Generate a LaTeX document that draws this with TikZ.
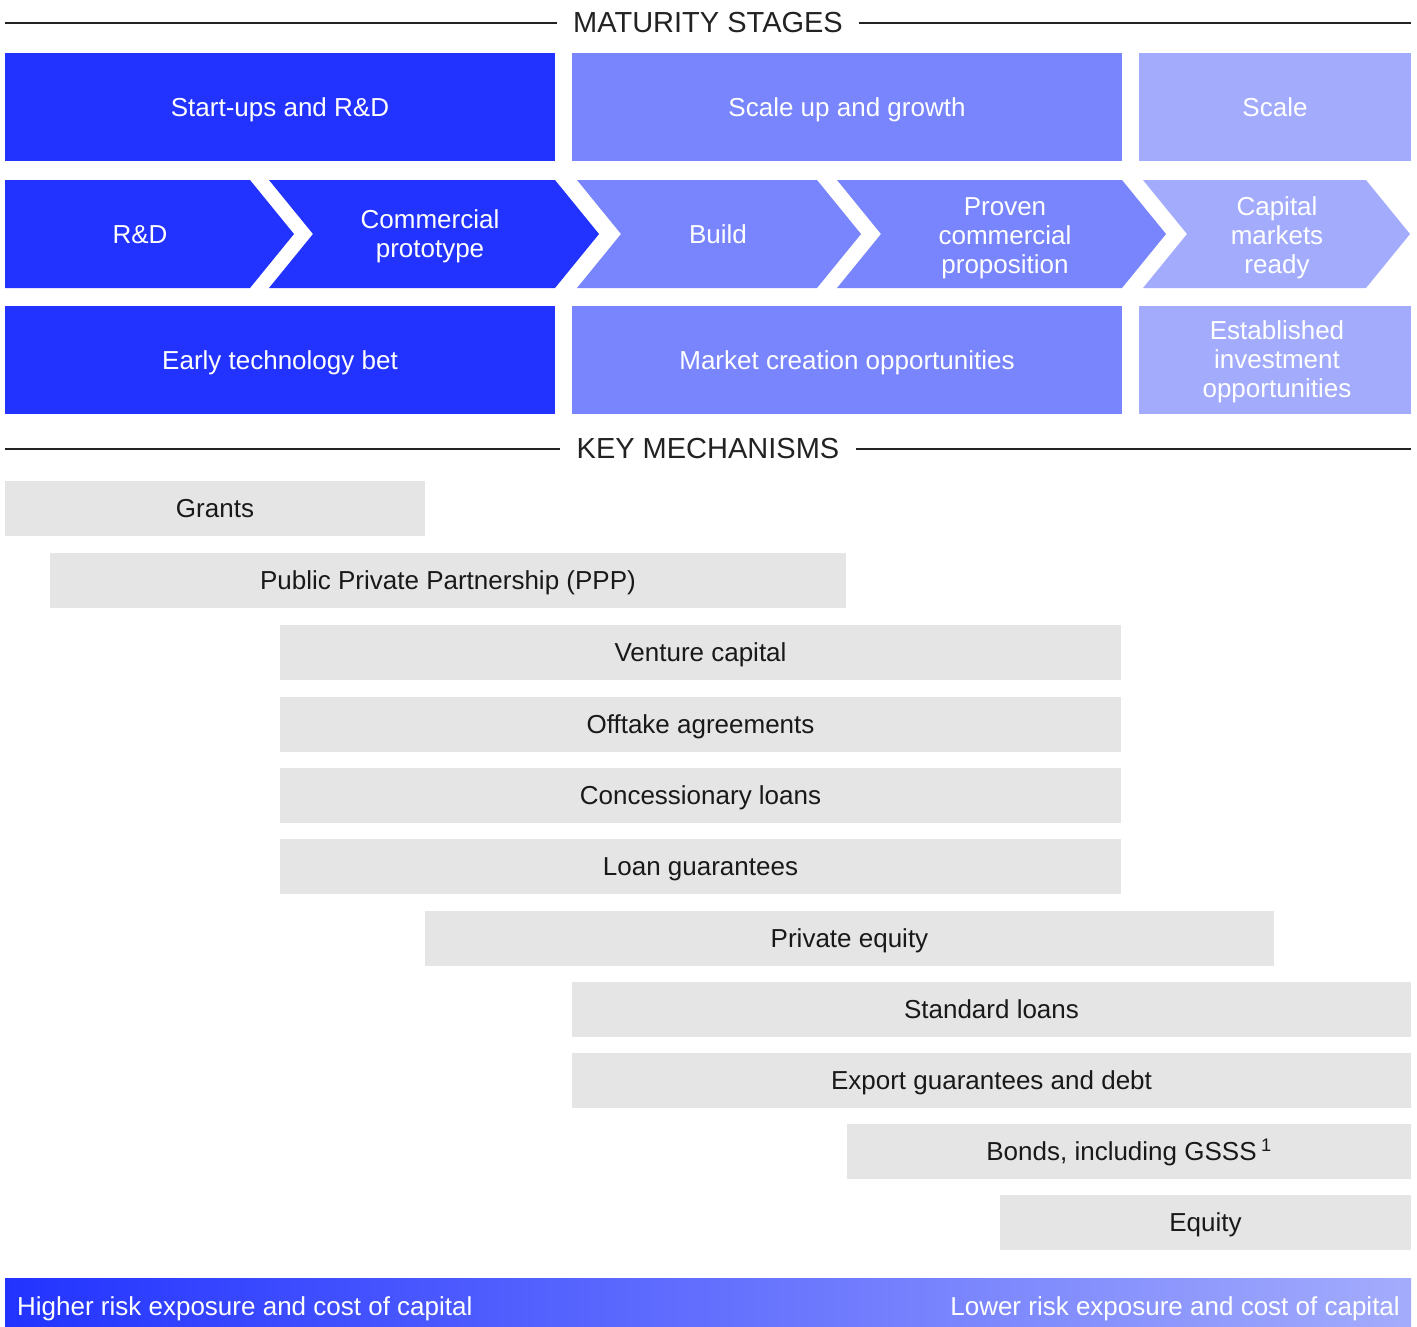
\documentclass[tikz,border=0pt]{standalone}
\usepackage{fontspec}
\setmainfont{Liberation Sans}
\usetikzlibrary{positioning}
\definecolor{darkStage}{HTML}{2233FF}
\definecolor{midStage}{HTML}{7885FC}
\definecolor{lightStage}{HTML}{A3ACFC}
\definecolor{barGrey}{HTML}{E5E5E5}
\definecolor{ruleGrey}{HTML}{222222}
\newcommand{\bodyFont}{\fontsize{26}{29}\selectfont}
\newcommand{\headFont}{\fontsize{29}{32}\selectfont}

\begin{document}
\begin{tikzpicture}[x=1pt,y=-1pt]
 \newcommand{\stageArrow}[3]{\fill[#1] (#2,180) -- (#3,180) -- ++(44,54) -- (#3,288) -- (#2,288) -- ++(44,-54) -- cycle;}
	\tikzset{capCentre/.style = {text height=18.6pt,text depth=0pt}}
	\tikzset{stage/.style = {capCentre,minimum width=550pt,minimum height=108pt,inner sep=0pt,text=white,font=\bodyFont,align=center}}
	\tikzset{stageText/.style = {capCentre,text=white,font=\bodyFont,align=center,inner sep=0pt}}
	\tikzset{multiText/.style = {text=white,font=\bodyFont,align=center,inner sep=0pt}}
	\tikzset{heading/.style = {font=\headFont,text=ruleGrey,inner ysep=0pt,inner xsep=16pt}}
	\tikzset{mech/.style = {capCentre,fill=barGrey,minimum height=55pt,inner sep=0pt,font=\bodyFont,text=black!90}}
	\tikzstyle{rule} = [draw=ruleGrey,line width=1.2pt]
	\useasboundingbox (0,0) rectangle (1417,1326);
	%maturity heading
	\node[heading] (maturity) at (708,23) {MATURITY STAGES};
	\coordinate (matL) at (5,23);
	\coordinate (matR) at (1411,23);
	\draw[rule] (matL) -- (maturity.west);
	\draw[rule] (maturity.east) -- (matR);
	%row 1
	\node[stage,fill=darkStage] (startups) at (280,107) {Start-ups and R\&D};
	\node[stage,fill=midStage] (scaleup) at (847,107) {Scale up and growth};
	\node[stage,fill=lightStage,minimum width=272pt] (scale) at (1275,107) {Scale};
	%row 2
	\fill[darkStage] (5,180) -- (250,180) -- ++(44,54) -- (250,288) -- (5,288) -- cycle;
	\stageArrow{darkStage}{269}{555}
	\stageArrow{midStage}{577}{817}
	\stageArrow{midStage}{837}{1122}
	\stageArrow{lightStage}{1143}{1366}
	\node[stageText] (rd) at (140,234) {R\&D};
	\node[multiText] (proto) at (430,236) {Commercial\\prototype};
	\node[stageText] (build) at (718,234) {Build};
	\node[multiText] (proven) at (1005,238) {Proven\\commercial\\proposition};
	\node[multiText] (ready) at (1277,238) {Capital\\markets\\ready};
	%row 3
	\node[stage,fill=darkStage] (early) at (280,360) {Early technology bet};
	\node[stage,fill=midStage] (market) at (847,360) {Market creation opportunities};
	\fill[lightStage] (1139,306) rectangle (1411,414);
	\node[multiText] (established) at (1277,362) {Established\\investment\\opportunities};
	%mechanisms heading
	\node[heading] (mechanisms) at (708,449) {KEY MECHANISMS};
	\coordinate (mechL) at (5,449);
	\coordinate (mechR) at (1411,449);
	\draw[rule] (mechL) -- (mechanisms.west);
	\draw[rule] (mechanisms.east) -- (mechR);
	%mechanisms
	\node[mech,minimum width=420pt] (grants) at (215,508) {Grants};
	\node[mech,minimum width=796pt] (ppp) at (448,580) {Public Private Partnership (PPP)};
	\node[mech,minimum width=841pt] (venture) at (700.5,652) {Venture capital};
	\node[mech,minimum width=841pt] (offtake) at (700.5,724) {Offtake agreements};
	\node[mech,minimum width=841pt] (concession) at (700.5,795) {Concessionary loans};
	\node[mech,minimum width=841pt] (guarantee) at (700.5,866) {Loan guarantees};
	\node[mech,minimum width=849pt] (private) at (849.5,938) {Private equity};
	\node[mech,minimum width=839pt] (standard) at (991.5,1009) {Standard loans};
	\node[mech,minimum width=839pt] (export) at (991.5,1080) {Export guarantees and debt};
	\node[mech,minimum width=564pt] (bonds) at (1129,1151) {Bonds, including GSSS\,\textsuperscript{1}};
	\node[mech,minimum width=411pt] (equity) at (1205.5,1222) {Equity};
	%risk bar
	\node[minimum width=1406pt,minimum height=48pt,inner sep=0pt,left color=darkStage,middle color=midStage,right color=lightStage] (risk) at (708,1302) {};
	\node[anchor=base west,inner sep=0pt,text=white,font=\bodyFont] (riskHigh) at (17,1315) {Higher risk exposure and cost of capital};
	\node[anchor=base east,inner sep=0pt,text=white,font=\bodyFont] (riskLow) at (1400,1315) {Lower risk exposure and cost of capital};
\end{tikzpicture}
\end{document}
